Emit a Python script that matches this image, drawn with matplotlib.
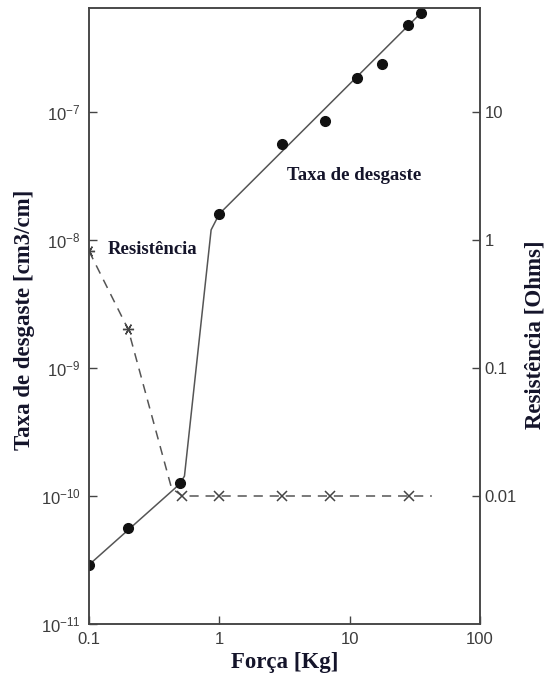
import matplotlib
matplotlib.use("Agg")
import matplotlib.pyplot as plt
from matplotlib.ticker import FixedLocator, FuncFormatter, NullLocator

# wear rate measurements (filled circles)
force_wear = [0.1, 0.2, 0.5, 1.0, 3.0, 6.5, 11.4, 17.6, 28.0, 35.0]
wear_rate = [2.9e-11, 5.65e-11, 1.26e-10, 1.6e-8, 5.6e-8, 8.5e-8, 1.85e-7, 2.36e-7, 4.75e-7, 5.9e-7]

# trend line through the wear data
fit_force = [0.1, 0.457, 0.5, 0.54, 0.865, 1.0, 35.0]
fit_rate = [2.9e-11, 1.15e-10, 1.26e-10, 1.43e-10, 1.2e-8, 1.6e-8, 5.9e-7]

# contact resistance (crosses)
res_force = [0.1, 0.2, 0.52, 1.0, 3.0, 7.1, 28.5]
res_ohms = [0.82, 0.2, 0.01, 0.01, 0.01, 0.01, 0.01]
res_curve_force = [0.1, 0.2, 0.43, 0.52, 42.7]
res_curve_ohms = [0.82, 0.2, 0.0115, 0.01, 0.01]

x_ticks = [0.1, 1, 10, 100]
left_ticks = [1e-11, 1e-10, 1e-9, 1e-8, 1e-7]
right_ticks = [0.01, 0.1, 1, 10]
right_labels = ["0.01", "0.1", "1", "10"]

ylim = (1e-11, 10 ** -6.1875)

plt.rcParams["font.family"] = ["Liberation Sans", "DejaVu Sans"]
plt.rcParams["mathtext.default"] = "regular"

tick_col = "#3c3c3c"
text_col = "#14142a"
serif = dict(family="Liberation Serif", weight="bold", color=text_col)

fig = plt.figure(figsize=(5.46, 6.85), dpi=100)
ax = fig.add_axes([89 / 546, 1 - 624 / 685, 391 / 546, 616 / 685])
ax2 = ax.twinx()

ax.set_xscale("log")
ax.set_yscale("log")
ax2.set_yscale("log")
ax.set_xlim(0.1, 100)
ax.set_ylim(*ylim)
ax2.set_ylim(ylim[0] * 1e8, ylim[1] * 1e8)

ax.plot(fit_force, fit_rate, color="#555555", lw=1.1, zorder=2)
ax.plot(force_wear, wear_rate, "o", color="#111111", ms=7, zorder=3)

ax2.plot(res_curve_force, res_curve_ohms, color="#555555", lw=1.1,
         dashes=(6, 4.5), zorder=2)
ax2.plot(res_force[:2], res_ohms[:2], ls="none", marker=(6, 2, 30),
         color="#444444", ms=8, mew=1.0, zorder=3)
ax2.plot(res_force[2:], res_ohms[2:], ls="none", marker="x",
         color="#444444", ms=7, mew=1.1, zorder=3)

ax.xaxis.set_major_locator(FixedLocator(x_ticks))
ax.xaxis.set_major_formatter(FuncFormatter(lambda v, p: f"{v:g}"))
ax.yaxis.set_major_locator(FixedLocator(left_ticks))
ax2.yaxis.set_major_locator(FixedLocator(right_ticks))
ax2.yaxis.set_major_formatter(FuncFormatter(lambda v, p: right_labels[p] if p is not None else ""))
for a in (ax, ax2):
    a.xaxis.set_minor_locator(NullLocator())
    a.yaxis.set_minor_locator(NullLocator())
    for s in a.spines.values():
        s.set_color("#444444")
        s.set_linewidth(1.1)

ax.tick_params(axis="x", direction="in", length=5.5, width=1, color="#444444",
               labelsize=12, labelcolor=tick_col, pad=6)
ax.tick_params(axis="y", direction="in", length=5.5, width=1, color="#444444",
               labelsize=12, labelcolor=tick_col, pad=6)
ax2.tick_params(axis="y", direction="in", length=5.5, width=1, color="#444444",
                labelsize=12, labelcolor=tick_col, pad=3.5)

ax.set_xlabel("Força [Kg]", fontsize=16.5, va="center", **serif)
ax.xaxis.set_label_coords(0.5, -0.062)
ax.set_ylabel("Taxa de desgaste [cm3/cm]", fontsize=16.5, va="center", **serif)
ax.yaxis.set_label_coords(-0.166, 0.494)
ax2.set_ylabel("Resistência [Ohms]", fontsize=16.5, va="center", rotation=90, **serif)
ax2.yaxis.set_label_coords(1.14, 0.47)

ax.text(3.3, 3.2e-8, "Taxa de desgaste", fontsize=13.5, va="center", **serif)
ax.text(0.14, 8.4e-9, "Resistência", fontsize=13.5, va="center", **serif)

fig.savefig("out.png", dpi=100)
